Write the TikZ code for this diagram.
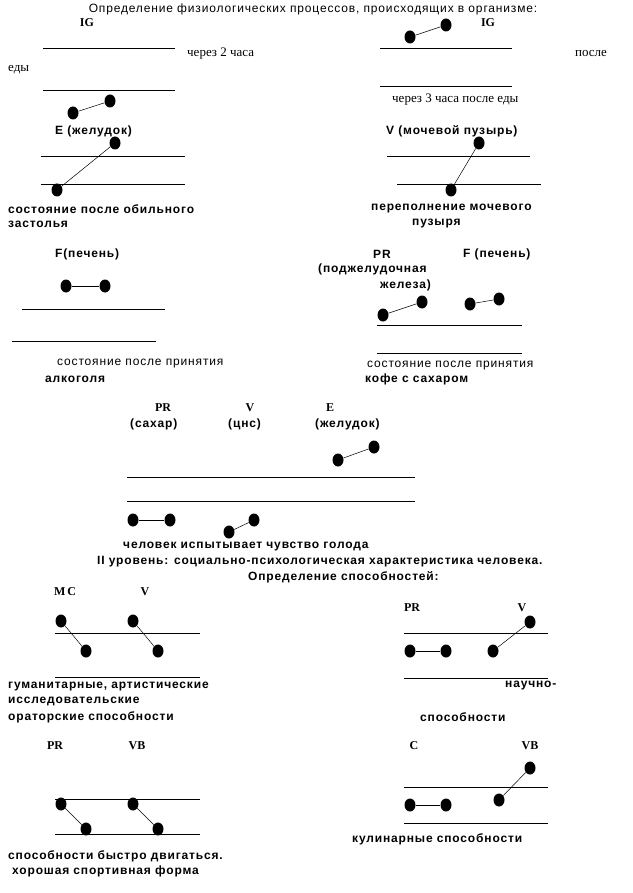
\documentclass[tikz,border=0pt]{standalone}
\usepackage{fontspec}
\setmainfont{Liberation Serif}
\setsansfont[LetterSpace=7]{Liberation Sans}
\usetikzlibrary{shapes.geometric}

\begin{document}
\begin{tikzpicture}[
  x=1pt, y=-1pt,
  blob/.style={ellipse, fill=black, inner sep=0pt, minimum width=11pt, minimum height=13pt},
  link/.style={line width=0.5pt},
  track/.style={line width=0.9pt},
  sym/.style={font=\rmfamily\bfseries\fontsize{12}{12}\selectfont, inner sep=0pt},
  boldtxt/.style={font=\sffamily\bfseries\fontsize{12}{14}\selectfont, inner sep=0pt, anchor=west},
  note/.style={font=\sffamily\fontsize{12}{14}\selectfont, inner sep=0pt, anchor=west},
  hint/.style={font=\rmfamily\fontsize{13}{15}\selectfont, inner sep=0pt, anchor=west}
]
\useasboundingbox (0,0) rectangle (632,893);

% title
\node[note, anchor=center] (title) at (313,9) {Определение физиологических процессов, происходящих в организме:};

% IG, left
\node[sym] (igL) at (87,23) {IG};
\draw[track] (43,48) -- (175,48);
\draw[track] (43,90) -- (175,90);
\node[hint] (t2h) at (187,54) {через 2 часа};
\node[hint] (edy) at (8,70) {еды};
\node[blob] (igL1) at (73,113) {};
\node[blob] (igL2) at (110,101) {};
\draw[link] (igL1) -- (igL2);

% IG, right
\node[blob] (igR1) at (410,37) {};
\node[blob] (igR2) at (446,25) {};
\draw[link] (igR1) -- (igR2);
\node[sym] (igR) at (488,23) {IG};
\draw[track] (380,48) -- (512,48);
\draw[track] (380,86) -- (512,86);
\node[hint] (posle) at (575,54) {после};
\node[hint] (t3h) at (392,100) {через 3 часа после еды};

% E, stomach
\node[boldtxt] (eLbl) at (55,131) {E (желудок)};
\draw[track] (41,156) -- (185,156);
\draw[track] (41,184) -- (185,184);
\node[blob] (e1) at (115,143) {};
\node[blob] (e2) at (57,190) {};
\draw[link] (e1) -- (e2);
\node[boldtxt] (feast) at (8,209) {состояние после обильного};
\node[boldtxt] (feast2) at (8,224) {застолья};

% V, bladder
\node[boldtxt] (vLbl) at (386,131) {V (мочевой пузырь)};
\draw[track] (387,156) -- (530,156);
\draw[track] (397,184) -- (541,184);
\node[blob] (v1) at (479,143) {};
\node[blob] (v2) at (451,190) {};
\draw[link] (v1) -- (v2);
\node[boldtxt] (full) at (371,209) {переполнение мочевого};
\node[boldtxt] (full2) at (412,224) {пузыря};

% F, liver
\node[boldtxt] (fLbl) at (55,254) {F(печень)};
\node[blob] (f1) at (66,286) {};
\node[blob] (f2) at (105,286) {};
\draw[link] (f1) -- (f2);
\draw[track] (22,309) -- (165,309);
\draw[track] (12,341) -- (156,341);
\node[note] (alc) at (57,364) {состояние после принятия};
\node[boldtxt] (alc2) at (45,379) {алкоголя};

% PR and F, coffee
\node[boldtxt] (prLbl) at (373,254) {PR};
\node[boldtxt] (prLbl2) at (318,269) {(поджелудочная};
\node[boldtxt] (prLbl3) at (380,285) {железа)};
\node[boldtxt] (fLbl2) at (463,254) {F (печень)};
\node[blob] (pr1) at (383,315) {};
\node[blob] (pr2) at (422,302) {};
\draw[link] (pr1) -- (pr2);
\node[blob] (fc1) at (470,304) {};
\node[blob] (fc2) at (499,299) {};
\draw[link] (fc1) -- (fc2);
\draw[track] (377,325) -- (522,325);
\draw[track] (377,353) -- (522,353);
\node[note] (cof) at (367,366) {состояние после принятия};
\node[boldtxt] (cof2) at (365,379) {кофе с сахаром};

% hunger
\node[sym] (hPR) at (163,408) {PR};
\node[boldtxt] (hPR2) at (130,424) {(сахар)};
\node[sym] (hV) at (250,408) {V};
\node[boldtxt] (hV2) at (228,424) {(цнс)};
\node[sym] (hE) at (330,408) {E};
\node[boldtxt] (hE2) at (315,424) {(желудок)};
\node[blob] (hE3) at (338,460) {};
\node[blob] (hE4) at (374,447) {};
\draw[link] (hE3) -- (hE4);
\draw[track] (127,477) -- (415,477);
\draw[track] (127,501) -- (415,501);
\node[blob] (hPR3) at (133,520) {};
\node[blob] (hPR4) at (170,520) {};
\draw[link] (hPR3) -- (hPR4);
\node[blob] (hV3) at (229,532) {};
\node[blob] (hV4) at (254,520) {};
\draw[link] (hV3) -- (hV4);
\node[boldtxt] (hunger) at (123,547) {человек испытывает чувство голода};
\node[boldtxt] (lvl2) at (97,562) {II уровень: социально-психологическая характеристика человека.};
\node[boldtxt] (abil) at (248,577) {Определение способностей:};

% MC and V
\node[sym] (mc) at (65,592) {M\,C};
\node[sym] (mcV) at (145,592) {V};
\draw[track] (55,633) -- (200,633);
\draw[track] (55,677) -- (200,677);
\node[blob] (mc1) at (61,621) {};
\node[blob] (mc2) at (86,651) {};
\draw[link] (mc1) -- (mc2);
\node[blob] (mcV1) at (133,621) {};
\node[blob] (mcV2) at (158,651) {};
\draw[link] (mcV1) -- (mcV2);
\node[boldtxt] (hum) at (8,686) {гуманитарные, артистические};
\node[boldtxt] (hum2) at (8,701) {исследовательские};
\node[boldtxt] (hum3) at (8,717) {ораторские способности};

% PR and V, science
\node[sym] (sPR) at (412,608) {PR};
\node[sym] (sV) at (522,608) {V};
\draw[track] (404,633) -- (548,633);
\draw[track] (404,678) -- (548,678);
\node[blob] (sPR1) at (410,651) {};
\node[blob] (sPR2) at (446,651) {};
\draw[link] (sPR1) -- (sPR2);
\node[blob] (sV1) at (493,651) {};
\node[blob] (sV2) at (530,622) {};
\draw[link] (sV1) -- (sV2);
\node[boldtxt] (sci) at (505,686) {научно-};
\node[boldtxt] (sci2) at (420,717) {способности};

% PR and VB, sport
\node[sym] (pPR) at (55,746) {PR};
\node[sym] (pVB) at (137,746) {VB};
\draw[track] (55,799) -- (200,799);
\draw[track] (55,834) -- (200,834);
\node[blob] (pPR1) at (61,804) {};
\node[blob] (pPR2) at (86,829) {};
\draw[link] (pPR1) -- (pPR2);
\node[blob] (pVB1) at (133,804) {};
\node[blob] (pVB2) at (158,829) {};
\draw[link] (pVB1) -- (pVB2);
\node[boldtxt] (spt) at (8,856) {способности быстро двигаться.};
\node[boldtxt] (spt2) at (12,871) {хорошая спортивная форма};

% C and VB, cooking
\node[sym] (cC) at (414,746) {C};
\node[sym] (cVB) at (530,746) {VB};
\draw[track] (404,787) -- (548,787);
\draw[track] (404,823) -- (548,823);
\node[blob] (cVB1) at (499,800) {};
\node[blob] (cVB2) at (530,768) {};
\draw[link] (cVB1) -- (cVB2);
\node[blob] (cC1) at (410,805) {};
\node[blob] (cC2) at (446,805) {};
\draw[link] (cC1) -- (cC2);
\node[boldtxt] (cook) at (352,839) {кулинарные способности};
\end{tikzpicture}
\end{document}
